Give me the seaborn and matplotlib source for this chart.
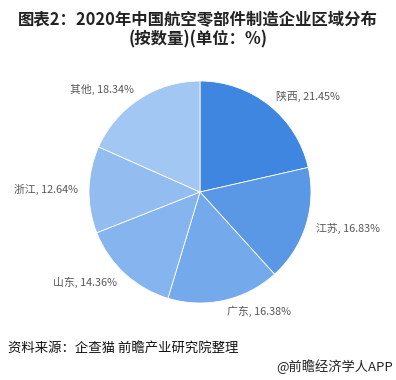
import matplotlib
matplotlib.use("Agg")
import matplotlib.pyplot as plt
import seaborn as sns

regions = ["陕西", "江苏", "广东", "山东", "浙江", "其他"]
shares = [21.45, 16.83, 16.38, 14.36, 12.64, 18.34]
colors = ["#3F86E0", "#5A98E6", "#74A9EB", "#85B4EE", "#93BDF0", "#A3C7F3"]

title = "图表2：2020年中国航空零部件制造企业区域分布\n(按数量)(单位：%)"
source = "资料来源：企查猫 前瞻产业研究院整理"
brand = "@前瞻经济学人APP"

sns.set_theme(style="white")
plt.rcParams['font.family'] = ['Noto Sans CJK SC', 'DejaVu Sans']

W, H = 396, 380
fig = plt.figure(figsize=(W / 100, H / 100), dpi=100)
cx, cy, r = 200, 192, 111
half = 1.5 * r
ax = fig.add_axes([(cx - half) / W, (H - cy - half) / H, 2 * half / W, 2 * half / H])

labels = [f"{n}, {v:.2f}%" for n, v in zip(regions, shares)]
wedges, texts = ax.pie(shares, labels=labels, colors=colors, startangle=90,
                       counterclock=False, labeldistance=1.1,
                       wedgeprops=dict(edgecolor="white", linewidth=0.6),
                       textprops=dict(color="#595959", fontsize=7.8))
ax.set_xlim(-1.5, 1.5)
ax.set_ylim(-1.5, 1.5)
ax.set_aspect("equal")
ax.axis("off")

fig.text(0.5, 1 - 29.5 / H, title, ha="center", va="center", fontsize=11.8,
         fontweight="bold", color="#222222", linespacing=1.1)
fig.text(8 / W, 1 - 349 / H, source, ha="left", va="center", fontsize=9.6, color="#111111")
fig.text(393 / W, 1 - 367 / H, brand, ha="right", va="center", fontsize=9.5, color="#222222")

fig.savefig("out.png", dpi=100)
